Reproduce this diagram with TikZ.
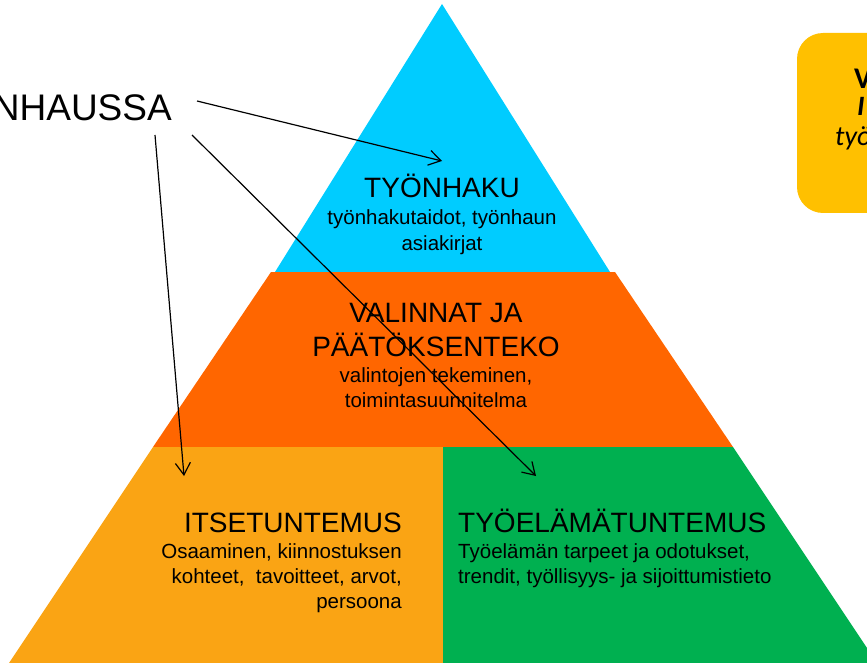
\documentclass[tikz,border=0pt]{standalone}
\usepackage{fontspec}
\setmainfont{Liberation Sans}
\newfontfamily\laatikkofont{Carlito}
\usetikzlibrary{arrows.meta}
\definecolor{hakusininen}{RGB}{0,204,255}
\definecolor{valintaoranssi}{RGB}{255,102,0}
\definecolor{itsekeltainen}{RGB}{250,164,20}
\definecolor{tyovihrea}{RGB}{0,176,80}
\definecolor{laatikkokulta}{RGB}{255,192,0}

\begin{document}
\begin{tikzpicture}[x=1pt,y=-1pt,
        otsikko/.style={font=\fontsize{28}{34}\selectfont,inner sep=0pt},
        teksti/.style={font=\fontsize{20.5}{25}\selectfont,inner sep=0pt},
        nuoli/.style={line width=1.2pt,-{Straight Barb[length=12pt,width=15pt]}}]
        \useasboundingbox (0,0) rectangle (867,663);
        \clip (0,0) rectangle (867,663);
        \fill[hakusininen] (442,4) -- (610,272) -- (275,272) -- cycle;
        \fill[valintaoranssi] (271,272) -- (615,272) -- (733,447) -- (153,447) -- cycle;
        \fill[itsekeltainen] (153,447) -- (443,447) -- (443,663) -- (9,663) -- cycle;
        \fill[tyovihrea] (443,447) -- (733,447) -- (877,663) -- (443,663) -- cycle;
        \fill[laatikkokulta,rounded corners=26pt] (797,33) rectangle (960,213);
        \node[otsikko,anchor=base] (haku) at (442,197) {TYÖNHAKU};
        \node[teksti,anchor=base,align=center] (hakuteksti) at (442,250) {työnhakutaidot, työnhaun\\asiakirjat};
        \node[otsikko,anchor=base,align=center] (valinnat) at (436,356) {VALINNAT JA\\PÄÄTÖKSENTEKO};
        \node[teksti,anchor=base,align=center] (valintateksti) at (436,407) {valintojen tekeminen,\\toimintasuunnitelma};
        \node[otsikko,anchor=base east] (itse) at (402,532) {ITSETUNTEMUS};
        \node[teksti,anchor=base east,align=right] (itseteksti) at (402,608) {Osaaminen, kiinnostuksen\\kohteet,\ \ tavoitteet, arvot,\\persoona};
        \node[otsikko,anchor=base west] (tyoelama) at (458,532) {TYÖELÄMÄTUNTEMUS};
        \node[teksti,anchor=base west,align=left] (tyoelamateksti) at (458,583) {Työelämän tarpeet ja odotukset,\\trendit, työllisyys- ja sijoittumistieto};
        \node[font=\fontsize{37}{44}\selectfont,inner sep=0pt,anchor=base east] (otsake) at (172,121) {NHAUSSA};
        \node[font=\laatikkofont\bfseries\fontsize{30}{32}\selectfont,inner sep=0pt,anchor=base west] (laatikko1) at (854,89) {V};
        \node[font=\laatikkofont\bfseries\itshape\fontsize{28}{30}\selectfont,inner sep=0pt,anchor=base west] (laatikko2) at (857,116) {I};
        \node[font=\laatikkofont\itshape\fontsize{28}{30}\selectfont,inner sep=0pt,anchor=base west] (laatikko3) at (835,146) {työ};
        \coordinate (a1) at (197,101);
        \coordinate (a2) at (155,135);
        \coordinate (a3) at (192,135);
        \coordinate (k1) at (442,161);
        \coordinate (k2) at (184,476);
        \coordinate (k3) at (536,476);
        \draw[nuoli] (a1) -- (k1);
        \draw[nuoli] (a2) -- (k2);
        \draw[nuoli] (a3) -- (k3);
    \end{tikzpicture}
\end{document}
